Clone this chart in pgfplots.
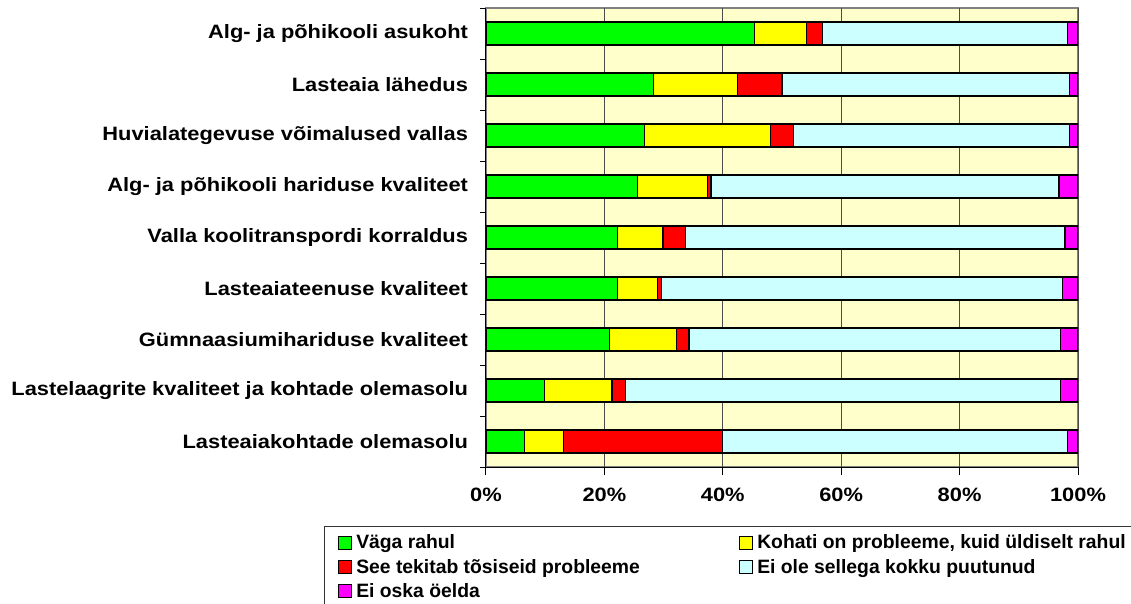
\documentclass[border=0pt]{standalone}
\usepackage{pgfplots}
\usepackage{pgfplotstable}
\pgfplotsset{compat=1.18}
\usepackage{fontspec}
\setmainfont{Liberation Sans}
\newfontfamily\catfont[FakeStretch=1.13]{Liberation Sans}
\definecolor{cgreen}{HTML}{00FF00}
\definecolor{cyellow}{HTML}{FFFF00}
\definecolor{cred}{HTML}{FF0000}
\definecolor{ccyan}{HTML}{CCFFFF}
\definecolor{cmag}{HTML}{FF00FF}
\definecolor{bgyellow}{HTML}{FFFFCC}
\pgfplotstableread{
idx g y r c m
0 45.4 8.8 2.6 41.4 1.8
1 28.3 14.2 7.5 48.5 1.5
2 26.8 21.3 3.9 46.5 1.5
3 25.6 11.8 0.6 58.8 3.2
4 22.2 7.7 3.8 64.1 2.2
5 22.2 6.8 0.7 67.7 2.6
6 20.8 11.4 2.1 62.8 2.9
7 9.9 11.4 2.3 73.5 2.9
8 6.5 6.6 26.8 58.3 1.8
}\datatable
\begin{document}
\begin{tikzpicture}
\begin{axis}[
  at={(0pt,0pt)}, anchor=south west,
  scale only axis, width=444pt, height=344.25pt,
  xbar stacked, bar width=0.45,
  xmin=0, xmax=100, ymin=-0.5, ymax=8.5, y dir=reverse,
  axis x line*=bottom, axis y line*=left,
  axis line style={black, line width=0.75pt, -},
  axis background/.style={fill=bgyellow, draw=black!50, line width=1pt},
  xtick={0,20,40,60,80,100},
  xticklabels={0\%,20\%,40\%,60\%,80\%,100\%},
  xmajorgrids, grid style={black!70, line width=0.75pt},
  ytick={0,...,8},
  yticklabels={Alg- ja põhikooli asukoht, Lasteaia lähedus, Huvialategevuse võimalused vallas, Alg- ja põhikooli hariduse kvaliteet, Valla koolitranspordi korraldus, Lasteaiateenuse kvaliteet, Gümnaasiumihariduse kvaliteet, Lastelaagrite kvaliteet ja kohtade olemasolu, Lasteaiakohtade olemasolu},
  minor ytick={-0.5,0.5,...,8.5},
  tick align=outside,
  major y tick style={draw=none},
  minor y tick style={black, line width=0.75pt},
  major x tick style={black, line width=0.75pt},
  major tick length=6pt, minor tick length=4.5pt,
  yticklabel style={font=\catfont\bfseries\fontsize{14.5pt}{17pt}\selectfont, xshift=-4pt},
  xticklabel style={font=\catfont\bfseries\fontsize{14.5pt}{17pt}\selectfont, yshift=-6pt},
  every axis plot/.append style={draw=black, line width=0.9pt},
  legend columns=2,
  legend style={at={(-0.274,-0.129)}, anchor=north west, draw=black!80, line width=0.75pt,
    font=\bfseries\fontsize{14.5pt}{16pt}\selectfont, row sep=2.2pt,
    /tikz/every even column/.append style={column sep=68pt},
    legend cell align=left, inner xsep=6pt, inner ysep=4pt},
  legend image code/.code={\path[draw=none, fill=none] (0pt,0pt) rectangle (16pt,0pt); \draw[#1, line width=0.75pt] (5pt,-4.75pt) rectangle (14.5pt,4.75pt);},
]
\addplot[fill=cgreen] table[x=g, y=idx] {\datatable};
\addplot[fill=cyellow] table[x=y, y=idx] {\datatable};
\addplot[fill=cred] table[x=r, y=idx] {\datatable};
\addplot[fill=ccyan] table[x=c, y=idx] {\datatable};
\addplot[fill=cmag] table[x=m, y=idx] {\datatable};
\legend{Väga rahul, {Kohati on probleeme, kuid üldiselt rahul\hspace*{40pt}}, See tekitab tõsiseid probleeme, Ei ole sellega kokku puutunud, Ei oska öelda}
\end{axis}
\pgfresetboundingbox
\path (-364.5pt,-102pt) rectangle (483.75pt,350.25pt);
\end{tikzpicture}
\end{document}
